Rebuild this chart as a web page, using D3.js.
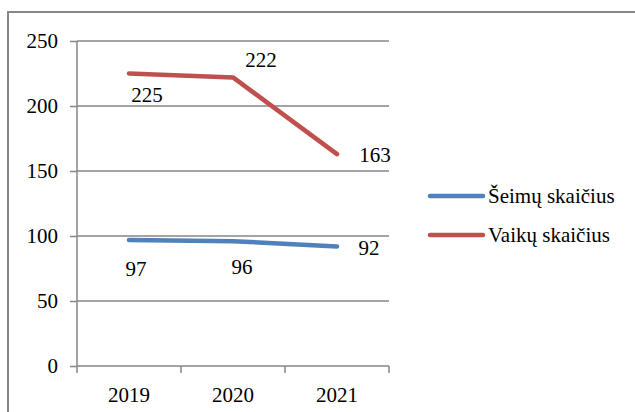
<!DOCTYPE html>
<html>
<head>
<meta charset="utf-8">
<script src="https://cdn.jsdelivr.net/npm/d3@7"></script>
<style>
  body { margin: 0; background: #fff; }
  svg { display: block; }
  svg text { font-family: "Liberation Serif", "DejaVu Serif", serif; font-size: 21px; fill: #000; }
  .grid line { stroke: #868686; stroke-width: 1.5; }
  .axis path, .axis line { stroke: #868686; stroke-width: 1.5; }
</style>
</head>
<body>
<div id="chart"></div>
<script>
const years = ["2019", "2020", "2021"];
const seimos = [97, 96, 92];
const vaikai = [225, 222, 163];
const seriesNames = ["Šeimų skaičius", "Vaikų skaičius"];
const yTicks = [0, 50, 100, 150, 200, 250];

const colors = ["#4F81BD", "#C0504D"];
// manual label nudges (dx, dy) relative to each point
const labelNudge = [
  [[7, 29], [9, 25], [32, 1]],
  [[18, 21], [28, -18], [38, 1]]
];

const width = 635, height = 412;
const plot = { left: 77, right: 389, top: 41, bottom: 366 };

const svg = d3.select("#chart")
  .append("svg")
  .attr("width", width)
  .attr("height", height);

// chart border (cropped, only top and left visible)
svg.append("rect")
  .attr("x", 8)
  .attr("y", 12)
  .attr("width", 700)
  .attr("height", 500)
  .attr("fill", "none")
  .attr("stroke", "#868686")
  .attr("stroke-width", 2);

const x = d3.scaleBand().domain(years).range([plot.left, plot.right]);
const y = d3.scaleLinear().domain([0, 250]).range([plot.bottom, plot.top]);

svg.append("g").attr("class", "grid")
  .selectAll("line").data(yTicks.filter(d => d > 0)).enter()
  .append("line")
  .attr("x1", plot.left)
  .attr("x2", plot.right)
  .attr("y1", d => y(d))
  .attr("y2", d => y(d));

const yAxis = svg.append("g").attr("class", "axis")
  .attr("transform", `translate(${plot.left},0)`)
  .call(d3.axisLeft(y).tickValues(yTicks).tickSize(7).tickPadding(12).tickSizeOuter(0))
  .attr("font-family", null)
  .attr("font-size", null);
yAxis.select(".domain").attr("d", `M0,${plot.bottom}V${plot.top}`);

const xAxis = svg.append("g").attr("class", "axis")
  .attr("transform", `translate(0,${plot.bottom})`)
  .call(d3.axisBottom(x).tickSize(0).tickPadding(21).tickSizeOuter(0))
  .attr("font-family", null)
  .attr("font-size", null);
xAxis.select(".domain").attr("d", `M${plot.left},0H${plot.right}`);

// category boundary ticks
xAxis.selectAll("line.boundary")
  .data(d3.range(years.length + 1)).enter()
  .append("line")
  .attr("class", "boundary")
  .attr("x1", i => plot.left + i * x.step())
  .attr("x2", i => plot.left + i * x.step())
  .attr("y1", 0)
  .attr("y2", 7);

const cx = d => x(d) + x.bandwidth() / 2;

const line = d3.line()
  .x((d, i) => cx(years[i]))
  .y(d => y(d));

const series = [seimos, vaikai];

svg.append("g").selectAll("path").data(series).enter()
  .append("path")
  .attr("d", d => line(d))
  .attr("fill", "none")
  .attr("stroke", (d, i) => colors[i])
  .attr("stroke-width", 4.5)
  .attr("stroke-linecap", "round")
  .attr("stroke-linejoin", "round");

series.forEach((values, s) => {
  svg.append("g").selectAll("text").data(values).enter()
    .append("text")
    .attr("class", "label")
    .attr("text-anchor", "middle")
    .attr("x", (d, i) => cx(years[i]) + labelNudge[s][i][0])
    .attr("y", (d, i) => y(d) + labelNudge[s][i][1])
    .attr("dy", "0.35em")
    .text(d => d);
});

// legend
const legend = svg.append("g").selectAll("g").data(seriesNames).enter()
  .append("g")
  .attr("transform", (d, i) => `translate(430,${196 + i * 39})`);

legend.append("line")
  .attr("x1", 0)
  .attr("x2", 53)
  .attr("stroke", (d, i) => colors[i])
  .attr("stroke-width", 4.5)
  .attr("stroke-linecap", "round");

legend.append("text")
  .attr("class", "label")
  .attr("x", 58)
  .attr("dy", "0.32em")
  .text(d => d);
</script>
</body>
</html>
